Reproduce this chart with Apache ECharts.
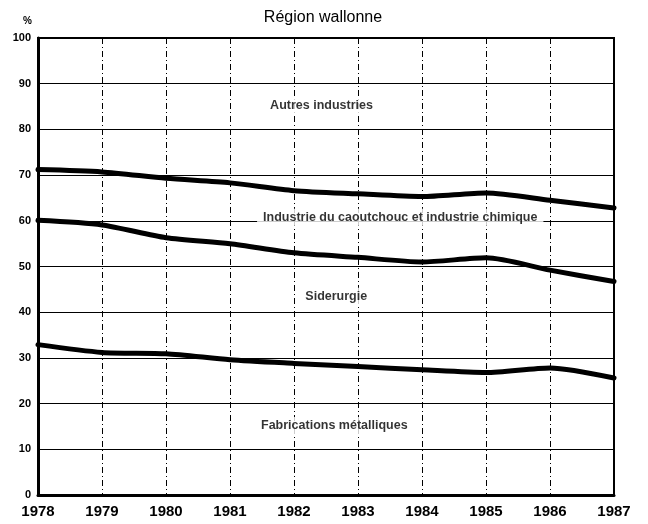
<!DOCTYPE html>
<html><head><meta charset="utf-8">
<script src="https://cdn.jsdelivr.net/npm/echarts@6/dist/echarts.min.js"></script>
<style>html,body{margin:0;padding:0;background:#fff}#c{width:648px;height:524px}</style>
</head><body><div id="c"></div>
<script>
const years = [1978, 1979, 1980, 1981, 1982, 1983, 1984, 1985, 1986, 1987];
const yTicks = [0, 10, 20, 30, 40, 50, 60, 70, 80, 90, 100];
// cumulative boundaries (%)
const fabricationsTop = [32.9, 31.2, 30.9, 29.6, 28.8, 28.1, 27.4, 26.8, 27.8, 25.6];
const siderurgieTop   = [60.1, 59.1, 56.3, 55.0, 53.0, 52.0, 51.0, 51.9, 49.2, 46.7];
const chimieTop       = [71.2, 70.7, 69.3, 68.3, 66.6, 65.9, 65.3, 66.1, 64.5, 62.8];
const areaLabels = [
  {name: 'Autres industries', x: 1982.43, y: 85.2},
  {name: 'Industrie du caoutchouc et industrie chimique', x: 1983.66, y: 60.8},
  {name: 'Siderurgie', x: 1982.66, y: 43.5},
  {name: 'Fabrications métalliques', x: 1982.63, y: 15.2},
];
const title = 'Région wallonne';

const lineSeries = [fabricationsTop, siderurgieTop, chimieTop].map(arr => ({
  type: 'line',
  data: years.map((y, i) => [y, arr[i]]),
  smooth: 0.25,
  symbol: 'none',
  lineStyle: {color: '#000', width: 5, cap: 'round', join: 'round'},
  z: 5
}));

const chart = echarts.init(document.getElementById('c'), null, {renderer: 'canvas'});
chart.setOption({
  animation: false,
  backgroundColor: '#fff',
  textStyle: {fontFamily: 'Liberation Sans'},
  title: {
    text: title, left: 318, top: 5, textAlign: 'center',
    textStyle: {fontFamily: 'Liberation Sans', fontSize: 16, fontWeight: 'normal', color: '#000'}
  },
  grid: {left: 38, right: 34, top: 38, bottom: 29, show: true, borderColor: '#000', borderWidth: 2, backgroundColor: 'transparent'},
  xAxis: {
    type: 'value', min: 1978, max: 1987, interval: 1,
    axisLine: {show: true, onZero: false, lineStyle: {color: '#000', width: 3}},
    axisTick: {show: false},
    axisLabel: {formatter: v => String(v), color: '#000', fontSize: 15, fontWeight: 'bold', margin: 9,
      fontFamily: 'Liberation Sans'},
    splitLine: {show: true, lineStyle: {color: '#000', width: 1, type: [6, 3, 1, 3]}}
  },
  yAxis: {
    type: 'value', min: 0, max: 100, interval: 10,
    name: '%', nameLocation: 'end', nameGap: 12,
    nameTextStyle: {color: '#000', fontSize: 10, fontWeight: 'bold', align: 'right', padding: [0, 6, 0, 0]},
    axisLine: {show: true, lineStyle: {color: '#000', width: 3}},
    axisTick: {show: false},
    axisLabel: {color: '#000', fontSize: 11, fontWeight: 'bold', margin: 7, fontFamily: 'Liberation Sans',
      formatter: v => yTicks.includes(v) ? String(v) : ''},
    splitLine: {show: true, lineStyle: {color: '#000', width: 1.2}}
  },
  series: [
    ...lineSeries,
    {
      type: 'scatter',
      symbolSize: 0,
      data: areaLabels.map(l => ({name: l.name, value: [l.x, l.y]})),
      label: {
        show: true, position: 'inside', formatter: p => p.name,
        color: '#000', fontSize: 12.5, fontFamily: 'Liberation Sans', fontWeight: 'bold',
        backgroundColor: '#fff', padding: [2, 6]
      },
      z: 4
    }
  ]
});
</script></body></html>
